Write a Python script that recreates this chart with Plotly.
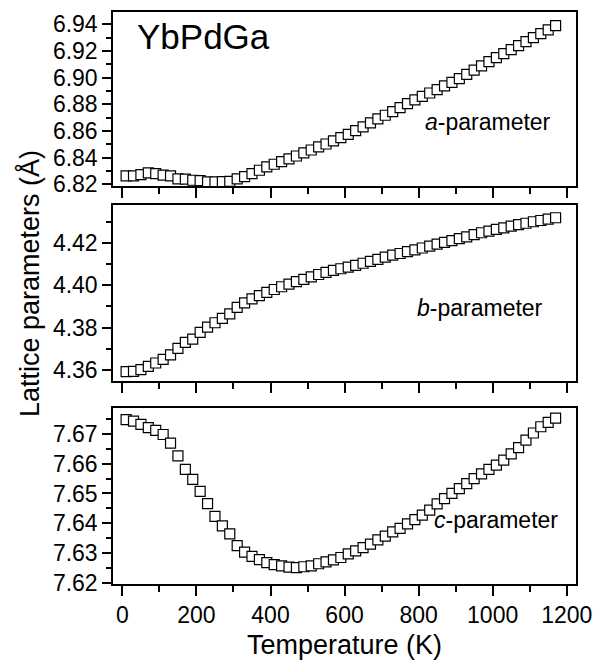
import plotly.graph_objects as go

temperature = [10, 30, 50, 70, 90, 110, 130, 150, 170, 190, 210, 230, 250, 270, 290,
               310, 330, 350, 370, 390, 410, 430, 450, 470, 490, 510, 530, 550, 570, 590,
               610, 630, 650, 670, 690, 710, 730, 750, 770, 790, 810, 830, 850, 870, 890,
               910, 930, 950, 970, 990, 1010, 1030, 1050, 1070, 1090, 1110, 1130, 1150, 1170]

a_param = [6.8263, 6.8263, 6.8273, 6.8285, 6.8280, 6.8268, 6.8263, 6.8240, 6.8238, 6.8230,
           6.8228, 6.8218, 6.8218, 6.8220, 6.8222, 6.8240, 6.8258, 6.8280, 6.8305, 6.8330,
           6.8350, 6.8370, 6.8390, 6.8412, 6.8435, 6.8457, 6.8480, 6.8502, 6.8525, 6.8550,
           6.8575, 6.8602, 6.8630, 6.8660, 6.8690, 6.8718, 6.8745, 6.8775, 6.8805, 6.8833,
           6.8860, 6.8885, 6.8910, 6.8938, 6.8965, 6.8993, 6.9025, 6.9057, 6.9088, 6.9120,
           6.9150, 6.9180, 6.9210, 6.9240, 6.9270, 6.9300, 6.9330, 6.9358, 6.9390]

b_param = [4.3592, 4.3593, 4.3602, 4.3617, 4.3633, 4.3650, 4.3671, 4.3702, 4.3730, 4.3746,
           4.3778, 4.3802, 4.3823, 4.3844, 4.3865, 4.3896, 4.3917, 4.3936, 4.3951, 4.3966,
           4.3980, 4.3993, 4.4005, 4.4017, 4.4028, 4.4040, 4.4051, 4.4061, 4.4070, 4.4078,
           4.4086, 4.4094, 4.4104, 4.4113, 4.4122, 4.4133, 4.4142, 4.4150, 4.4159, 4.4167,
           4.4176, 4.4185, 4.4194, 4.4203, 4.4211, 4.4220, 4.4229, 4.4239, 4.4248, 4.4256,
           4.4264, 4.4271, 4.4279, 4.4286, 4.4293, 4.4300, 4.4306, 4.4312, 4.4319]

c_param = [7.6748, 7.6743, 7.6732, 7.6721, 7.6712, 7.6698, 7.6669, 7.6626, 7.6581, 7.6547,
           7.6507, 7.6466, 7.6423, 7.6391, 7.6364, 7.6325, 7.6303, 7.6289, 7.6278, 7.6268,
           7.6261, 7.6257, 7.6253, 7.6251, 7.6254, 7.6257, 7.6264, 7.6270, 7.6277, 7.6285,
           7.6297, 7.6307, 7.6318, 7.6330, 7.6344, 7.6357, 7.6371, 7.6383, 7.6398, 7.6412,
           7.6427, 7.6444, 7.6465, 7.6483, 7.6500, 7.6516, 7.6533, 7.6550, 7.6566, 7.6581,
           7.6595, 7.6612, 7.6633, 7.6654, 7.6679, 7.6703, 7.6724, 7.6739, 7.6753]

x_ticks = [0, 200, 400, 600, 800, 1000, 1200]

FONT = "Liberation Sans, Arial, sans-serif"
marker = dict(symbol="square", size=10, color="white", line=dict(color="black", width=1.2))

fig = go.Figure()
fig.add_trace(go.Scatter(x=temperature, y=a_param, mode="markers", marker=marker,
                         xaxis="x", yaxis="y", showlegend=False))
fig.add_trace(go.Scatter(x=temperature, y=b_param, mode="markers", marker=marker,
                         xaxis="x2", yaxis="y2", showlegend=False))
fig.add_trace(go.Scatter(x=temperature, y=c_param, mode="markers", marker=marker,
                         xaxis="x3", yaxis="y3", showlegend=False))

def xax(anchor, labels):
    return dict(range=[-25.4, 1225.1], anchor=anchor, domain=[0, 1],
                tickmode="array", tickvals=x_ticks, showticklabels=labels,
                ticks="outside", ticklen=10, tickwidth=1.5, tickcolor="black",
                minor=dict(ticks="outside", ticklen=6, tickwidth=1.5, tickcolor="black", dtick=100, tick0=0),
                showline=True, linecolor="black", linewidth=1.5, mirror=True,
                showgrid=False, zeroline=False,
                tickfont=dict(family=FONT, size=23, color="black"))

def yax(anchor, rng, dom, dtick, tick0, mdtick):
    return dict(range=rng, anchor=anchor, domain=dom,
                dtick=dtick, tick0=tick0, tickformat=".2f",
                ticks="outside", ticklen=9, tickwidth=1.5, tickcolor="black",
                minor=dict(ticks="outside", ticklen=5, tickwidth=1.5, tickcolor="black", dtick=mdtick, tick0=tick0),
                showline=True, linecolor="black", linewidth=1.5, mirror=True,
                showgrid=False, zeroline=False,
                tickfont=dict(family=FONT, size=23, color="black"))

fig.update_layout(
    width=607, height=662,
    margin=dict(l=113, r=31, t=11, b=78),
    paper_bgcolor="white", plot_bgcolor="white",
    xaxis=xax("y", False),
    xaxis2=xax("y2", False),
    xaxis3=xax("y3", True),
    yaxis=yax("x", [6.8187, 6.9495], [0.6946, 0.9988], 0.02, 6.82, 0.01),
    yaxis2=yax("x2", [4.3548, 4.4379], [0.3543, 0.6614], 0.02, 4.36, 0.01),
    yaxis3=yax("x3", [7.6196, 7.6788], [0.0, 0.3077], 0.01, 7.62, 0.005),
)

ann_font = dict(family=FONT, size=23, color="black")
fig.add_annotation(x=1163, y=6.8667, xref="x", yref="y", text="<i>a</i>-parameter",
                   showarrow=False, xanchor="right", yanchor="middle", font=ann_font)
fig.add_annotation(x=1141, y=4.3893, xref="x2", yref="y2", text="<i>b</i>-parameter",
                   showarrow=False, xanchor="right", yanchor="middle", font=ann_font)
fig.add_annotation(x=1182, y=7.6411, xref="x3", yref="y3", text="<i>c</i>-parameter",
                   showarrow=False, xanchor="right", yanchor="middle", font=ann_font)
fig.add_annotation(x=33, y=6.9312, xref="x", yref="y", text="YbPdGa",
                   showarrow=False, xanchor="left", yanchor="middle",
                   font=dict(family=FONT, size=35, color="black"))
fig.add_annotation(x=0.5, y=-0.1065, xref="paper", yref="paper", text="Temperature (K)",
                   showarrow=False, xanchor="center", yanchor="middle",
                   font=dict(family=FONT, size=27, color="black"))
fig.add_annotation(x=-0.179, y=0.5236, xref="paper", yref="paper", text="Lattice parameters (Å)",
                   showarrow=False, xanchor="center", yanchor="middle", textangle=-90,
                   font=dict(family=FONT, size=27, color="black"))

fig.write_html("out.html", config={"displayModeBar": False},
               post_script="document.body.style.margin='0';document.body.style.padding='0';")
